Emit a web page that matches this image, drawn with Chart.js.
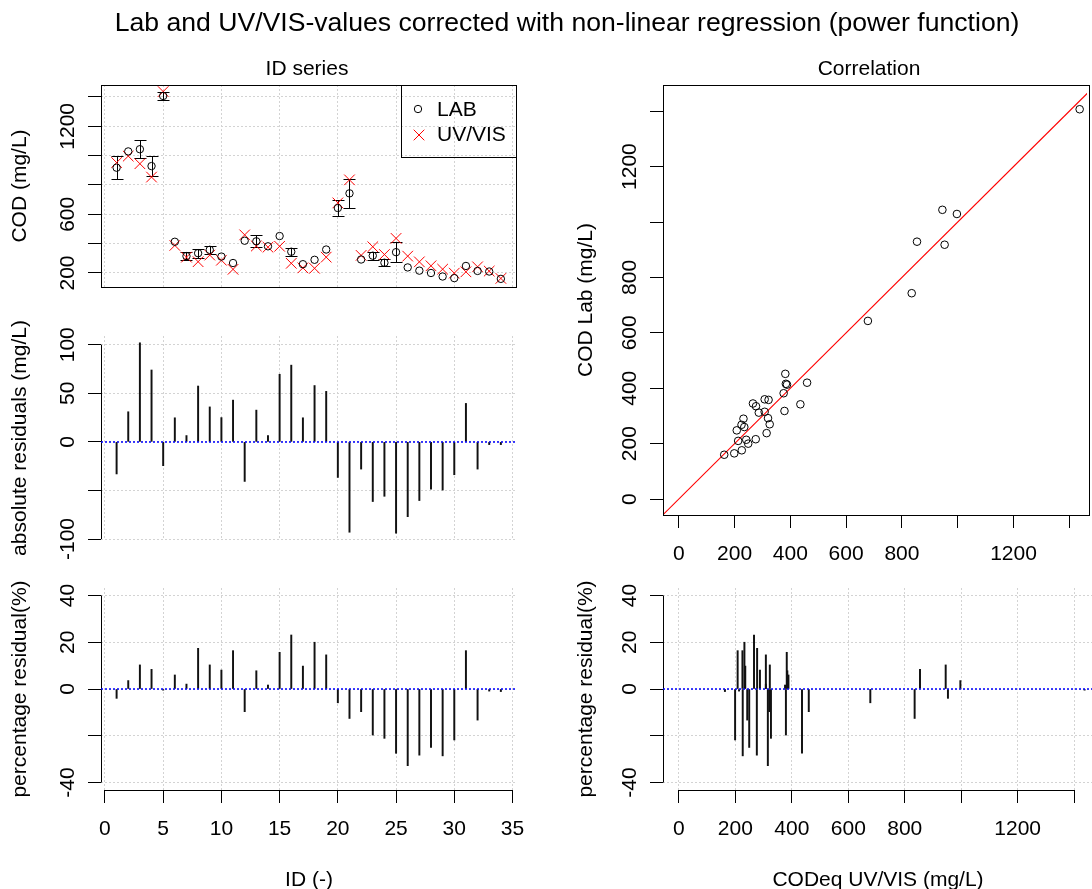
<!DOCTYPE html>
<html><head><meta charset="utf-8">
<script src="https://cdn.jsdelivr.net/npm/chart.js@4.4.0/dist/chart.umd.min.js"></script>
<style>
html,body{margin:0;padding:0;background:#fff;}
#wrap{position:relative;width:1092px;height:889px;overflow:hidden;background:#fff;font-family:"Liberation Sans",Arial,sans-serif;}
canvas{position:absolute;left:0;top:0;}
.t{position:absolute;white-space:nowrap;color:#000;font-size:21px;line-height:1;}
.h{transform:translate(-50%,-50%);}
.v{transform:translate(-50%,-50%) rotate(-90deg);}
</style></head><body>
<div id="wrap">
<canvas id="c1" width="1092" height="889"></canvas>
<canvas id="c2" width="1092" height="889"></canvas>
<canvas id="c3" width="1092" height="889"></canvas>
<canvas id="c4" width="1092" height="889"></canvas>
<canvas id="c5" width="1092" height="889"></canvas>
<div class="t h" style="left:567px;top:22px;font-size:26.6px">Lab and UV/VIS-values corrected with non-linear regression (power function)</div>
<div class="t h" style="left:307px;top:67px">ID series</div>
<div class="t h" style="left:869px;top:67px">Correlation</div>
<div class="t v" style="left:18px;top:186px">COD (mg/L)</div>
<div class="t v" style="left:18px;top:438px">absolute residuals (mg/L)</div>
<div class="t v" style="left:18px;top:689px">percentage residual(%)</div>
<div class="t v" style="left:584px;top:300px">COD Lab (mg/L)</div>
<div class="t v" style="left:584px;top:689px">percentage residual(%)</div>
<div class="t h" style="left:309px;top:878px">ID (-)</div>
<div class="t h" style="left:878px;top:878px">CODeq UV/VIS (mg/L)</div>
</div>
<script>
// ---------------- data ----------------
const ids = [1,2,3,4,5,6,7,8,9,10,11,12,13,14,15,16,17,18,19,20,21,22,23,24,25,26,27,28,29,30,31,32,33,34];
const labValues = [918,1029,1044,929,1407,413,315,335,358,312,268,420,416,382,452,345,260,290,360,643,743,292,318,270,342,238,216,200,176,165,248,214,210,160];
const uvValues  = [953,997,945,854,1437,388,308,277,322,287,225,460,384,376,382,266,235,232,308,678,835,320,379,326,436,315,276,249,226,199,208,242,213,163];
const labErrors = [80,0,62,68,27,0,26,32,27,0,0,0,40,0,0,28,0,0,0,57,100,0,28,25,66,0,0,0,0,0,0,0,0,0];
const absResiduals = [-33,31,102,74,-24.5,24.8,6.5,57.5,36,25,43,-40.7,32.7,6.5,69.6,79,24.8,58,52,-36.6,-93,-28,-61.4,-56,-94,-77,-60.4,-48.6,-49.6,-33.8,39.6,-28,-2.8,-2.8];
const pctResiduals = [-4,3.6,10.3,8.4,-0.5,6,2.1,17.4,10.3,8.1,16.4,-9.7,7.8,1.7,15.7,23.1,9.8,20,14.6,-5.9,-12.6,-9.7,-19.7,-21.1,-27.5,-32.8,-28.3,-25,-28.6,-21.8,16.4,-13.3,-0.9,-1.1];
const identityLine = [-200, 1700];

const idTicks = [0,5,10,15,20,25,30,35];
const idTickLabels = ['0','5','10','15','20','25','30','35'];
const codTicks = [200,400,600,800,1000,1200,1400];
const codTickLabels = ['200','','600','','','1200',''];
const absTicks = [-100,-50,0,50,100];
const absTickLabels = ['-100','','0','50','100'];
const pctTicks = [-40,-20,0,20,40];
const pctTickLabels = ['-40','','0','20','40'];
const corrTicks = [0,200,400,600,800,1000,1200,1400];
const corrTickLabels = ['0','200','400','600','800','','1200',''];
const legendLabels = ['LAB','UV/VIS'];

// ---------------- helpers ----------------
const FAM = '"Liberation Sans", Arial, sans-serif';
const FONT = {family: FAM, size: 21};
const mctx = document.createElement('canvas').getContext('2d');
mctx.font = '21px ' + FAM;
function widest(labels){ return Math.max(...labels.map(l => mctx.measureText(l).width)); }

function xScale(min, max, ticks, labels, grid, z) {
  return {
    type: 'linear', position: 'bottom', min, max, offset: false,
    afterBuildTicks: s => { s.ticks = ticks.map(v => ({value: v})); },
    afterFit: s => { s.height = 80; },
    grid: {display: true, offset: false, drawOnChartArea: grid, drawTicks: !!labels, tickLength: 13,
           tickColor: '#000', tickWidth: 1, color: '#d3d3d3', lineWidth: 1},
    border: {display: false, dash: [2, 2]},
    ticks: {display: !!labels, autoSkip: false, maxRotation: 0, minRotation: 0, padding: 14,
            font: FONT, color: '#000', callback: (v, i) => labels ? labels[i] : ''},
    z: z || 0
  };
}
function yScale(min, max, ticks, labels, grid, z) {
  return {
    type: 'linear', position: 'left', min, max, offset: false,
    afterBuildTicks: s => { s.ticks = ticks.map(v => ({value: v})); },
    afterFit: s => { s.width = 80; },
    grid: {display: true, offset: false, drawOnChartArea: grid, drawTicks: true, tickLength: 13,
           tickColor: '#000', tickWidth: 1, color: '#d3d3d3', lineWidth: 1},
    border: {display: false, dash: [2, 2]},
    ticks: {display: true, autoSkip: false, minRotation: 90, maxRotation: 90, crossAlign: 'center',
            padding: 20 - widest(labels) / 2, font: FONT, color: '#000',
            callback: (v, i) => labels[i]},
    z: z || 0
  };
}
function pad(P){ return {left: P.L - 80, top: P.T, right: 1092 - P.R, bottom: 889 - P.B - 80}; }

const boxPlugin = {
  id: 'rbox',
  afterDraw(chart, args, o) {
    if (!o.on) return;
    const a = chart.chartArea, c = chart.ctx;
    c.save(); c.strokeStyle = '#000'; c.lineWidth = 1;
    c.strokeRect(Math.round(a.left) + 0.5, Math.round(a.top) + 0.5, Math.round(a.right - a.left) + (o.extra||0), Math.round(a.bottom - a.top));
    c.restore();
  }
};
const axisLinePlugin = {
  id: 'raxis',
  afterDraw(chart, args, o) {
    const c = chart.ctx, a = chart.chartArea;
    c.save(); c.strokeStyle = '#000'; c.lineWidth = 1;
    if (o.y) {
      const s = chart.scales.y, t = s.ticks;
      const x = Math.round(a.left) + 0.5;
      c.beginPath(); c.moveTo(x, s.getPixelForValue(t[0].value)); c.lineTo(x, s.getPixelForValue(t[t.length-1].value)); c.stroke();
    }
    if (o.x) {
      const s = chart.scales.x, t = s.ticks;
      const y = Math.round(a.bottom) + 0.5;
      c.beginPath(); c.moveTo(s.getPixelForValue(t[0].value), y); c.lineTo(s.getPixelForValue(t[t.length-1].value), y); c.stroke();
    }
    c.restore();
  }
};
const zeroLinePlugin = {
  id: 'rzero',
  afterDraw(chart, args, o) {
    if (!o.on) return;
    const c = chart.ctx, a = chart.chartArea;
    const y = chart.scales.y.getPixelForValue(0);
    c.save(); c.strokeStyle = '#0000ff'; c.lineWidth = 1.5; c.setLineDash([2, 2]);
    c.beginPath(); c.moveTo(a.left, y); c.lineTo(a.right, y); c.stroke(); c.restore();
  }
};
const errorBarPlugin = {
  id: 'rerr',
  beforeDatasetsDraw(chart, args, o) {
    if (!o.on) return;
    const c = chart.ctx, xs = chart.scales.x, ys = chart.scales.y;
    c.save(); c.strokeStyle = '#000'; c.lineWidth = 1;
    ids.forEach((id, i) => {
      const e = labErrors[i]; if (!e) return;
      const x = Math.round(xs.getPixelForValue(id)) + 0.5;
      const y1 = Math.round(ys.getPixelForValue(labValues[i] - e)) + 0.5;
      const y2 = Math.round(ys.getPixelForValue(labValues[i] + e)) + 0.5;
      c.beginPath();
      c.moveTo(x, y1); c.lineTo(x, y2);
      c.moveTo(x - 6, y1); c.lineTo(x + 6, y1);
      c.moveTo(x - 6, y2); c.lineTo(x + 6, y2);
      c.stroke();
    });
    c.restore();
  }
};
const legendPlugin = {
  id: 'rlegend',
  afterDraw(chart, args, o) {
    if (!o.on) return;
    const c = chart.ctx, a = chart.chartArea;
    const w = 115, h = 72;
    const left = Math.round(a.right) - w, top = Math.round(a.top);
    c.save(); c.strokeStyle = '#000'; c.lineWidth = 1;
    c.strokeRect(left + 0.5, top + 0.5, w, h);
    c.beginPath(); c.arc(left + 17, top + 24, 3.7, 0, Math.PI * 2); c.stroke();
    c.strokeStyle = '#ff0000';
    const cx = left + 18, cy = top + 50, r = 5.3;
    c.beginPath(); c.moveTo(cx - r, cy - r); c.lineTo(cx + r, cy + r); c.moveTo(cx + r, cy - r); c.lineTo(cx - r, cy + r); c.stroke();
    c.fillStyle = '#000'; c.font = '21px ' + FAM; c.textBaseline = 'middle'; c.textAlign = 'left';
    c.fillText(legendLabels[0], left + 36, top + 25);
    c.fillText(legendLabels[1], left + 36, top + 50);
    c.restore();
  }
};
Chart.register(boxPlugin, axisLinePlugin, zeroLinePlugin, errorBarPlugin, legendPlugin);

function baseOpts(P, scales, plug) {
  return {
    responsive: false, animation: false, events: [],
    layout: {padding: pad(P)},
    scales,
    plugins: Object.assign({legend: {display: false}, tooltip: {enabled: false},
      rbox: {on: false}, raxis: {}, rzero: {on: false}, rerr: {on: false}, rlegend: {on: false}}, plug)
  };
}

const P1 = {L:101, T:85, R:516, B:287};
const P2 = {L:101, T:336, R:516, B:540};
const P3 = {L:101, T:588, R:516, B:790};
const P4 = {L:663, T:85, R:1092, B:515};
const P5 = {L:663, T:588, R:1092, B:790};
const idMin = -0.34, idMax = 35.3;
const corrMin = -56.4, corrMax = 1463.3;

// 1. ID series
new Chart(document.getElementById('c1'), {
  type: 'scatter',
  data: {datasets: [
    {label: 'LAB', data: ids.map((id, i) => ({x: id, y: labValues[i]})),
     pointStyle: 'circle', pointRadius: 3.7, borderColor: '#000', backgroundColor: 'rgba(0,0,0,0)', borderWidth: 1},
    {label: 'UV/VIS', data: ids.map((id, i) => ({x: id, y: uvValues[i]})),
     pointStyle: 'crossRot', pointRadius: 7.5, borderColor: '#ff0000', backgroundColor: '#ff0000', borderWidth: 1}
  ]},
  options: baseOpts(P1, {
    x: xScale(idMin, idMax, idTicks, null, true),
    y: yScale(104.5, 1481.8, codTicks, codTickLabels, true)
  }, {rbox: {on: true}, rerr: {on: true}, rlegend: {on: true}})
});

// 2. absolute residuals
new Chart(document.getElementById('c2'), {
  type: 'bar',
  data: {datasets: [{data: ids.map((id, i) => ({x: id, y: absResiduals[i]})),
    backgroundColor: '#111', borderWidth: 0, barThickness: 1.3}]},
  options: baseOpts(P2, {
    x: xScale(idMin, idMax, idTicks, null, true, 1),
    y: yScale(-101, 109, absTicks, absTickLabels, true)
  }, {raxis: {y: true}, rzero: {on: true}})
});

// 3. percentage residuals vs ID
new Chart(document.getElementById('c3'), {
  type: 'bar',
  data: {datasets: [{data: ids.map((id, i) => ({x: id, y: pctResiduals[i]})),
    backgroundColor: '#111', borderWidth: 0, barThickness: 1.3}]},
  options: baseOpts(P3, {
    x: xScale(idMin, idMax, idTicks, idTickLabels, true, 1),
    y: yScale(-43.2, 43.2, pctTicks, pctTickLabels, true)
  }, {raxis: {x: true, y: true}, rzero: {on: true}})
});

// 4. correlation
new Chart(document.getElementById('c4'), {
  type: 'scatter',
  data: {datasets: [
    {data: uvValues.map((u, i) => ({x: u, y: labValues[i]})),
     pointStyle: 'circle', pointRadius: 3.8, borderColor: '#000', backgroundColor: 'rgba(0,0,0,0)', borderWidth: 1},
    {data: identityLine.map(v => ({x: v, y: v})), showLine: true, pointRadius: 0,
     borderColor: '#ff0000', backgroundColor: '#ff0000', borderWidth: 1.1, clip: 0}
  ]},
  options: baseOpts(P4, {
    x: xScale(corrMin, corrMax, corrTicks, corrTickLabels, false),
    y: yScale(-57.5, 1494.5, corrTicks, corrTickLabels, false)
  }, {rbox: {on: true, extra: 2}})
});

// 5. percentage residuals vs UV/VIS
new Chart(document.getElementById('c5'), {
  type: 'bar',
  data: {datasets: [{data: uvValues.map((u, i) => ({x: u, y: pctResiduals[i]})),
    backgroundColor: '#111', borderWidth: 0, barThickness: 1.3}]},
  options: baseOpts(P5, {
    x: xScale(corrMin, corrMax, corrTicks, corrTickLabels, true, 1),
    y: yScale(-43.2, 43.2, pctTicks, pctTickLabels, true)
  }, {raxis: {x: true, y: true}, rzero: {on: true}})
});
</script>
</body></html>
